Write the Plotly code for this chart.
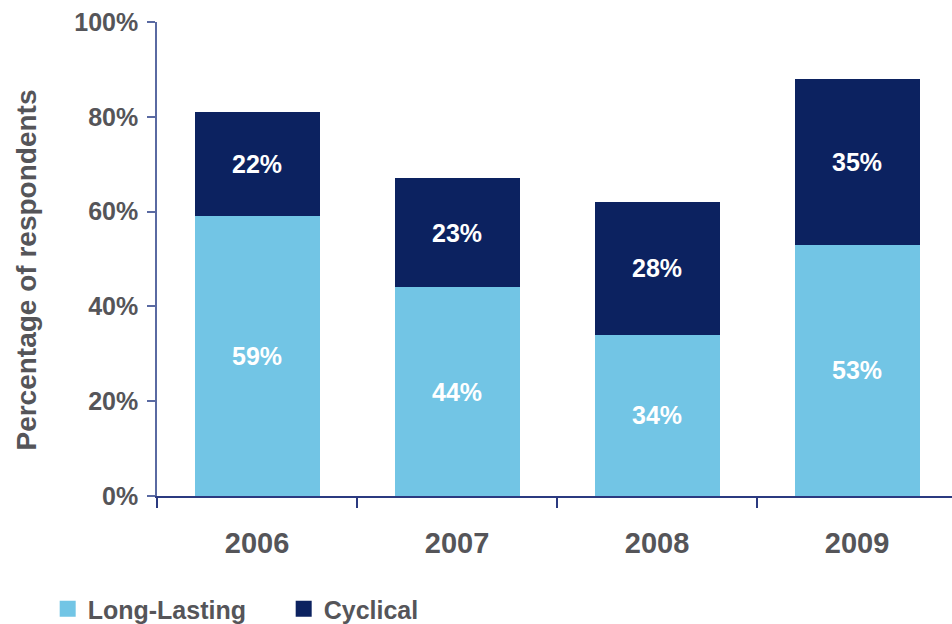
import plotly.graph_objects as go

years = ["2006", "2007", "2008", "2009"]
long_lasting = [59, 44, 34, 53]
cyclical = [22, 23, 28, 35]
y_ticks = [0, 20, 40, 60, 80, 100]
y_tick_labels = ["0%", "20%", "40%", "60%", "80%", "100%"]

LIGHT = "#72C5E5"
NAVY = "#0C2260"
GRAY = "#555559"
FONT = "Liberation Sans, Arial, sans-serif"

fig = go.Figure()
fig.add_trace(go.Bar(
    x=years, y=long_lasting, name="Long-Lasting", marker=dict(color=LIGHT, line=dict(width=0)),
    width=0.625, text=[f"<b>{v}%</b>" for v in long_lasting], textposition="inside",
    insidetextanchor="middle", textfont=dict(color="white", size=25, family=FONT),
    showlegend=False))
fig.add_trace(go.Bar(
    x=years, y=cyclical, name="Cyclical", marker=dict(color=NAVY, line=dict(width=0)),
    width=0.625, text=[f"<b>{v}%</b>" for v in cyclical], textposition="inside",
    insidetextanchor="middle", textfont=dict(color="white", size=25, family=FONT),
    showlegend=False))
# legend entries
fig.add_trace(go.Scatter(x=[None], y=[None], mode="markers", name="<b>Long-Lasting</b>",
                         marker=dict(symbol="square", size=17, color=LIGHT)))
fig.add_trace(go.Scatter(x=[None], y=[None], mode="markers", name="<b>Cyclical</b>",
                         marker=dict(symbol="square", size=17, color=NAVY)))

fig.update_layout(
    barmode="stack",
    width=952, height=624,
    margin=dict(l=157, r=0, t=22, b=128, pad=0, autoexpand=False),
    paper_bgcolor="white", plot_bgcolor="white",
    font=dict(family=FONT, color=GRAY),
    xaxis=dict(type="category", range=[-0.5, 3.475], showline=True, linecolor="#2B3A80",
               linewidth=1.5, ticks="outside", tickson="boundaries", ticklen=10,
               tickcolor="#2B3A80", tickwidth=1.5, showgrid=False, zeroline=False,
               automargin=False, ticklabelstandoff=20,
               tickfont=dict(size=29, color=GRAY, family=FONT),
               tickvals=years, ticktext=[f"<b>{y}</b>" for y in years]),
    yaxis=dict(range=[0, 100], tickvals=y_ticks, ticktext=[f"<b>{t}</b>" for t in y_tick_labels],
               showline=True, linecolor="#5A6AA2", linewidth=1.5, ticks="outside", ticklen=8,
               tickcolor="#5A6AA2", tickwidth=1.5, showgrid=False, zeroline=False,
               automargin=False,
               tickfont=dict(size=25, color=GRAY, family=FONT), ticklabelstandoff=4),
    legend=dict(orientation="h", x=-0.1375, xanchor="left", yref="container",
                y=(624 - 609) / 624, yanchor="middle", traceorder="normal",
                font=dict(size=25, color=GRAY, family=FONT), entrywidth=191,
                entrywidthmode="pixels", itemsizing="trace", bgcolor="rgba(0,0,0,0)"),
    annotations=[dict(text="<b>Percentage of respondents</b>", textangle=-90,
                      xref="paper", yref="paper", x=-0.164, y=0.477, xanchor="center",
                      yanchor="middle", showarrow=False,
                      font=dict(size=28, color=GRAY, family=FONT))],
    bargap=0.375,
)
fig.write_html("out.html")
